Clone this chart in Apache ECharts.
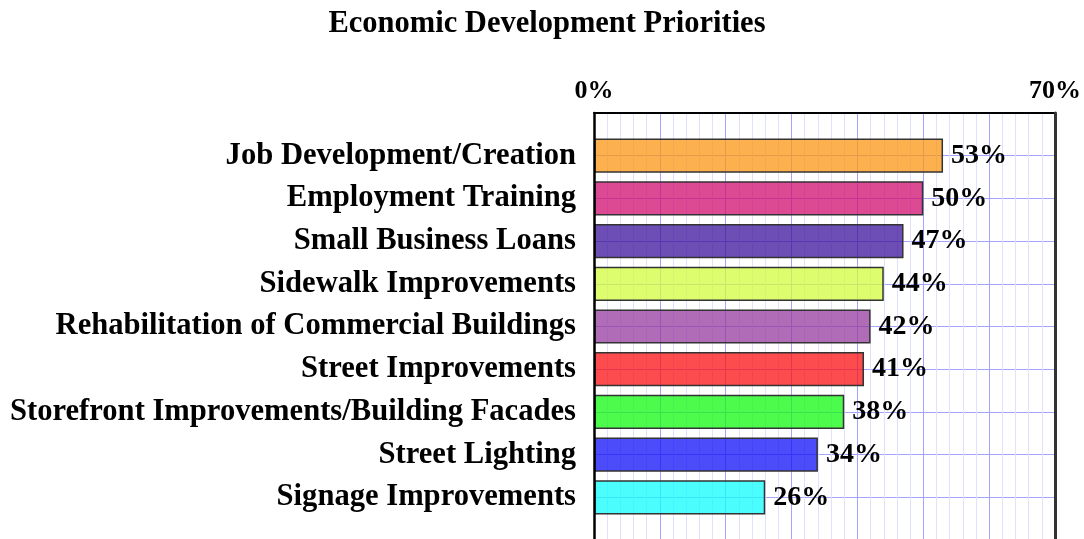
<!DOCTYPE html>
<html>
<head>
<meta charset="utf-8">
<script src="https://cdn.jsdelivr.net/npm/echarts@6/dist/echarts.min.js"></script>
<style>
html,body{margin:0;padding:0;background:#fff;}
#chart{width:1084px;height:539px;}
</style>
</head>
<body>
<div id="chart"></div>
<script>
const title = 'Economic Development Priorities';
const categories = [
  'Job Development/Creation',
  'Employment Training',
  'Small Business Loans',
  'Sidewalk Improvements',
  'Rehabilitation of Commercial Buildings',
  'Street Improvements',
  'Storefront Improvements/Building Facades',
  'Street Lighting',
  'Signage Improvements'
];
const values = [53, 50, 47, 44, 42, 41, 38, 34, 26];
const axisMin = 0;
const axisMax = 70;
const axisLabelValues = [0, 70];

const barColors = [
  'rgba(252,151,19,0.75)',
  'rgba(208,14,111,0.75)',
  'rgba(59,19,155,0.75)',
  'rgba(210,252,62,0.75)',
  'rgba(150,59,158,0.75)',
  'rgba(252,16,19,0.75)',
  'rgba(16,250,16,0.75)',
  'rgba(16,16,250,0.75)',
  'rgba(16,252,252,0.75)'
];

const FONT = '"Liberation Serif", "Times New Roman", serif';
const MAJOR = '#a4a4ff';
const MINOR = '#e0e0ff';
const chart = echarts.init(document.getElementById('chart'), null, {renderer: 'canvas'});

const gridLeft = 594, gridRight = 29, gridTop = 113, gridHeight = 427;
const band = gridHeight / (categories.length + 1);

chart.setOption({
  animation: false,
  backgroundColor: '#fff',
  title: {
    text: title,
    left: 542,
    textAlign: 'center',
    top: 4,
    textStyle: {fontFamily: FONT, fontWeight: 'bold', fontSize: 30.5, color: '#000'}
  },
  grid: [
    {left: gridLeft, right: gridRight, top: gridTop, height: gridHeight,
     show: true, borderColor: '#333', borderWidth: 0, backgroundColor: '#fff'},
    {left: gridLeft, right: gridRight, top: gridTop + band / 2, height: band * categories.length}
  ],
  xAxis: [
    {
      gridIndex: 0, type: 'value', position: 'top', min: axisMin, max: axisMax, interval: 10,
      z: 1,
      axisLine: {show: true, onZero: false, lineStyle: {color: '#000', width: 2}},
      axisTick: {show: false},
      axisLabel: {
        margin: 9, fontFamily: FONT, fontWeight: 'bold', fontSize: 26, color: '#000',
        formatter: v => axisLabelValues.indexOf(v) >= 0 ? v + '%' : ''
      },
      splitLine: {show: true, lineStyle: {color: MAJOR, width: 1}},
      minorTick: {show: false, splitNumber: 5},
      minorSplitLine: {show: true, lineStyle: {color: MINOR, width: 1}}
    },
    {
      gridIndex: 1, type: 'value', min: axisMin, max: axisMax, show: false
    }
  ],
  yAxis: [
    {gridIndex: 0, type: 'value', min: 0, max: 1, position: 'left', z: 5,
     axisLine: {show: true, onZero: false, lineStyle: {color: '#000', width: 2.5}},
     axisTick: {show: false}, axisLabel: {show: false}, splitLine: {show: false}},
    {gridIndex: 0, type: 'value', min: 0, max: 1, position: 'right', z: 5,
     axisLine: {show: true, onZero: false, lineStyle: {color: '#333', width: 3}},
     axisTick: {show: false}, axisLabel: {show: false}, splitLine: {show: false}},
    {
      gridIndex: 1, type: 'category', inverse: true, data: categories,
      axisLine: {show: false}, axisTick: {show: false},
      axisLabel: {margin: 18, fontFamily: FONT, fontWeight: 'bold', fontSize: 30.6, color: '#000'},
      splitLine: {show: true, alignWithLabel: true, lineStyle: {color: MAJOR, width: 1}}
    }
  ],
  series: [{
    type: 'bar',
    xAxisIndex: 1, yAxisIndex: 2,
    barCategoryGap: '20%',
    data: values.map((v, i) => ({value: v, itemStyle: {color: barColors[i]}})),
    itemStyle: {borderColor: '#333', borderWidth: 1.5},
    label: {
      show: true, position: 'right', distance: 8,
      formatter: '{c}%',
      fontFamily: FONT, fontWeight: 'bold', fontSize: 28, color: '#000'
    }
  }]
});
</script>
</body>
</html>
